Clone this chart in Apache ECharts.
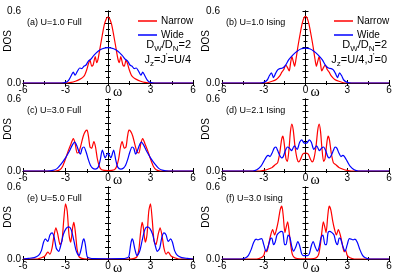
<!DOCTYPE html>
<html>
<head>
<meta charset="utf-8">
<script src="https://cdn.jsdelivr.net/npm/echarts@6/dist/echarts.min.js"></script>
<style>html,body{margin:0;padding:0;background:#fff}#c{width:399px;height:280px}</style>
</head>
<body>
<div id="c"></div>
<script>
// ---------- data ----------
const panelLabels = ['(a) U=1.0 Full', '(b) U=1.0 Ising', '(c) U=3.0 Full', '(d) U=2.1 Ising', '(e) U=5.0 Full', '(f) U=3.0 Ising'];
const seriesNames = ['Narrow', 'Wide'];
const xTicks = [-6, -3, 0, 3, 6];
const yTickLabels = ['0.0', '0.6'];

const aNarrow = [[-6,0],[-3,0],[-2.6,0.005],[-2.3,0.015],[-2.0,0.03],[-1.8,0.045],[-1.65,0.065],[-1.5,0.11],[-1.38,0.16],[-1.27,0.19],[-1.15,0.14],[-1.05,0.15],[-0.9,0.22],[-0.8,0.17],[-0.7,0.2],[-0.55,0.3],[-0.4,0.4],[-0.25,0.49],[-0.1,0.54],[0,0.55],[0.1,0.54],[0.25,0.49],[0.4,0.4],[0.55,0.3],[0.7,0.2],[0.8,0.17],[0.9,0.22],[1.05,0.15],[1.15,0.14],[1.27,0.19],[1.38,0.16],[1.5,0.11],[1.65,0.065],[1.8,0.045],[2.0,0.03],[2.3,0.015],[2.6,0.005],[3,0],[6,0]];
const aWide = [[-6,0],[-3.3,0],[-3.0,0.005],[-2.8,0.02],[-2.6,0.06],[-2.45,0.09],[-2.32,0.065],[-2.15,0.1],[-2.0,0.125],[-1.85,0.12],[-1.7,0.14],[-1.55,0.15],[-1.4,0.18],[-1.2,0.2],[-1.0,0.23],[-0.7,0.265],[-0.4,0.285],[0,0.295],[0.4,0.285],[0.7,0.265],[1.0,0.23],[1.2,0.2],[1.4,0.18],[1.55,0.15],[1.7,0.14],[1.85,0.12],[2.0,0.125],[2.15,0.1],[2.32,0.065],[2.45,0.09],[2.6,0.06],[2.8,0.02],[3.0,0.005],[3.3,0],[6,0]];

const bNarrow = [[-6,0],[-2.9,0],[-2.4,0.015],[-2.1,0.03],[-1.85,0.06],[-1.7,0.09],[-1.57,0.11],[-1.42,0.15],[-1.3,0.13],[-1.17,0.1],[-1.08,0.16],[-0.98,0.22],[-0.88,0.18],[-0.78,0.14],[-0.68,0.2],[-0.55,0.3],[-0.4,0.4],[-0.25,0.49],[-0.1,0.545],[0,0.555],[0.1,0.545],[0.25,0.49],[0.4,0.4],[0.55,0.3],[0.68,0.2],[0.78,0.14],[0.88,0.18],[0.98,0.22],[1.08,0.16],[1.17,0.1],[1.3,0.13],[1.42,0.15],[1.57,0.11],[1.7,0.09],[1.85,0.06],[2.1,0.03],[2.4,0.015],[2.9,0],[6,0]];
const bWide = [[-6,0],[-3.3,0],[-3.0,0.005],[-2.75,0.025],[-2.6,0.06],[-2.45,0.085],[-2.3,0.045],[-2.15,0.08],[-2.0,0.11],[-1.85,0.12],[-1.65,0.125],[-1.45,0.145],[-1.2,0.195],[-0.9,0.235],[-0.6,0.265],[-0.3,0.285],[0,0.29],[0.3,0.285],[0.6,0.265],[0.9,0.235],[1.2,0.195],[1.45,0.145],[1.65,0.125],[1.85,0.12],[2.0,0.11],[2.15,0.08],[2.3,0.045],[2.45,0.085],[2.6,0.06],[2.75,0.025],[3.0,0.005],[3.3,0],[6,0]];

const cNarrow = [[-6,0],[-3.7,0],[-3.4,0.01],[-3.2,0.04],[-3.0,0.1],[-2.8,0.17],[-2.6,0.23],[-2.45,0.27],[-2.32,0.23],[-2.18,0.15],[-2.05,0.16],[-1.9,0.22],[-1.75,0.29],[-1.6,0.33],[-1.48,0.34],[-1.38,0.29],[-1.27,0.2],[-1.15,0.19],[-1.0,0.245],[-0.88,0.2],[-0.75,0.1],[-0.6,0.035],[-0.45,0.01],[0,0.003],[0.45,0.01],[0.6,0.035],[0.75,0.1],[0.88,0.2],[1.0,0.245],[1.15,0.19],[1.27,0.2],[1.38,0.29],[1.48,0.34],[1.6,0.33],[1.75,0.29],[1.9,0.22],[2.05,0.16],[2.18,0.15],[2.32,0.23],[2.45,0.27],[2.6,0.23],[2.8,0.17],[3.0,0.1],[3.2,0.04],[3.4,0.01],[3.7,0],[6,0]];
const cWide = [[-6,0],[-4.3,0],[-3.9,0.005],[-3.6,0.02],[-3.3,0.06],[-3.0,0.11],[-2.75,0.16],[-2.5,0.22],[-2.35,0.24],[-2.2,0.21],[-2.05,0.16],[-1.95,0.14],[-1.82,0.19],[-1.7,0.2],[-1.55,0.16],[-1.4,0.1],[-1.25,0.05],[-1.1,0.025],[-0.9,0.015],[-0.7,0.03],[-0.55,0.09],[-0.4,0.175],[-0.2,0.11],[0,0.15],[0.2,0.11],[0.4,0.175],[0.55,0.09],[0.7,0.03],[0.9,0.015],[1.1,0.025],[1.25,0.05],[1.4,0.1],[1.55,0.16],[1.7,0.2],[1.82,0.19],[1.95,0.14],[2.05,0.16],[2.2,0.21],[2.35,0.24],[2.5,0.22],[2.75,0.16],[3.0,0.11],[3.3,0.06],[3.6,0.02],[3.9,0.005],[4.3,0],[6,0]];

const dNarrow = [[-6,0],[-3.3,0],[-3.0,0.005],[-2.7,0.015],[-2.4,0.03],[-2.15,0.055],[-2.0,0.07],[-1.85,0.15],[-1.72,0.26],[-1.62,0.29],[-1.52,0.22],[-1.4,0.1],[-1.3,0.08],[-1.18,0.19],[-1.08,0.33],[-0.98,0.39],[-0.88,0.34],[-0.75,0.2],[-0.6,0.1],[-0.48,0.075],[-0.35,0.1],[-0.2,0.14],[0,0.15],[0.2,0.14],[0.35,0.1],[0.48,0.075],[0.6,0.1],[0.75,0.2],[0.88,0.34],[0.98,0.39],[1.08,0.33],[1.18,0.19],[1.3,0.08],[1.4,0.1],[1.52,0.22],[1.62,0.29],[1.72,0.26],[1.85,0.15],[2.0,0.07],[2.15,0.055],[2.4,0.03],[2.7,0.015],[3.0,0.005],[3.3,0],[6,0]];
const dWide = [[-6,0],[-3.8,0],[-3.5,0.01],[-3.2,0.04],[-3.0,0.08],[-2.8,0.12],[-2.68,0.13],[-2.55,0.12],[-2.4,0.15],[-2.25,0.19],[-2.12,0.2],[-2.0,0.17],[-1.85,0.13],[-1.72,0.11],[-1.6,0.12],[-1.45,0.17],[-1.3,0.2],[-1.15,0.19],[-1.0,0.17],[-0.8,0.21],[-0.6,0.18],[-0.42,0.24],[-0.27,0.26],[-0.12,0.235],[0,0.23],[0.12,0.235],[0.27,0.26],[0.42,0.24],[0.6,0.18],[0.8,0.21],[1.0,0.17],[1.15,0.19],[1.3,0.2],[1.45,0.17],[1.6,0.12],[1.72,0.11],[1.85,0.13],[2.0,0.17],[2.12,0.2],[2.25,0.19],[2.4,0.15],[2.55,0.12],[2.68,0.13],[2.8,0.12],[3.0,0.08],[3.2,0.04],[3.5,0.01],[3.8,0],[6,0]];

const eNarrow = [[-6,0],[-5.0,0],[-4.7,0.01],[-4.45,0.025],[-4.25,0.058],[-4.1,0.04],[-3.95,0.09],[-3.82,0.19],[-3.68,0.26],[-3.55,0.21],[-3.38,0.12],[-3.25,0.15],[-3.12,0.33],[-3.0,0.46],[-2.88,0.4],[-2.75,0.2],[-2.63,0.14],[-2.5,0.26],[-2.41,0.305],[-2.3,0.22],[-2.18,0.08],[-2.05,0.02],[-1.85,0.005],[-1.5,0],[1.5,0],[1.85,0.005],[2.05,0.02],[2.18,0.08],[2.3,0.22],[2.41,0.305],[2.5,0.26],[2.63,0.14],[2.75,0.2],[2.88,0.4],[3.0,0.46],[3.12,0.33],[3.25,0.15],[3.38,0.12],[3.55,0.21],[3.68,0.26],[3.82,0.19],[3.95,0.09],[4.1,0.04],[4.25,0.058],[4.45,0.025],[4.7,0.01],[5.0,0],[6,0]];
const eWide = [[-6,0],[-5.6,0.005],[-5.2,0.012],[-4.9,0.03],[-4.7,0.07],[-4.55,0.14],[-4.42,0.167],[-4.25,0.147],[-4.1,0.2],[-3.95,0.217],[-3.8,0.18],[-3.65,0.09],[-3.48,0.064],[-3.32,0.12],[-3.15,0.205],[-2.95,0.255],[-2.77,0.267],[-2.6,0.245],[-2.42,0.16],[-2.25,0.07],[-2.05,0.028],[-1.9,0.08],[-1.78,0.15],[-1.7,0.167],[-1.6,0.12],[-1.47,0.02],[-1.3,0.008],[-1.0,0.003],[0,0.002],[1.0,0.003],[1.3,0.008],[1.47,0.02],[1.6,0.12],[1.7,0.167],[1.78,0.15],[1.9,0.08],[2.05,0.028],[2.25,0.07],[2.42,0.16],[2.6,0.245],[2.77,0.267],[2.95,0.255],[3.15,0.205],[3.32,0.12],[3.48,0.064],[3.65,0.09],[3.8,0.18],[3.95,0.217],[4.1,0.2],[4.25,0.147],[4.42,0.167],[4.55,0.14],[4.7,0.07],[4.9,0.03],[5.2,0.012],[5.6,0.005],[6,0]];

const fNarrow = [[-6,0],[-3.5,0],[-3.2,0.01],[-3.0,0.03],[-2.88,0.075],[-2.78,0.06],[-2.65,0.12],[-2.5,0.2],[-2.36,0.245],[-2.22,0.2],[-2.08,0.25],[-1.95,0.32],[-1.82,0.41],[-1.7,0.44],[-1.6,0.36],[-1.48,0.22],[-1.38,0.27],[-1.28,0.31],[-1.18,0.23],[-1.08,0.13],[-0.95,0.04],[-0.8,0.012],[-0.6,0.004],[0,0.002],[0.6,0.004],[0.8,0.012],[0.95,0.04],[1.08,0.13],[1.18,0.23],[1.28,0.31],[1.38,0.27],[1.48,0.22],[1.6,0.36],[1.7,0.44],[1.82,0.41],[1.95,0.32],[2.08,0.25],[2.22,0.2],[2.36,0.245],[2.5,0.2],[2.65,0.12],[2.78,0.06],[2.88,0.075],[3.0,0.03],[3.2,0.01],[3.5,0],[6,0]];
const fWide = [[-6,0],[-4.6,0],[-4.3,0.01],[-4.1,0.03],[-3.9,0.08],[-3.72,0.14],[-3.55,0.165],[-3.42,0.16],[-3.3,0.165],[-3.15,0.17],[-3.0,0.12],[-2.85,0.065],[-2.7,0.1],[-2.52,0.17],[-2.42,0.175],[-2.3,0.12],[-2.18,0.14],[-2.05,0.2],[-1.9,0.22],[-1.72,0.23],[-1.62,0.22],[-1.5,0.12],[-1.4,0.12],[-1.25,0.2],[-1.12,0.18],[-0.98,0.1],[-0.85,0.065],[-0.7,0.1],[-0.55,0.145],[-0.42,0.11],[-0.28,0.045],[-0.15,0.028],[0,0.028],[0.15,0.028],[0.28,0.045],[0.42,0.11],[0.55,0.145],[0.7,0.1],[0.85,0.065],[0.98,0.1],[1.12,0.18],[1.25,0.2],[1.4,0.12],[1.5,0.12],[1.62,0.22],[1.72,0.23],[1.9,0.22],[2.05,0.2],[2.18,0.14],[2.3,0.12],[2.42,0.175],[2.52,0.17],[2.7,0.1],[2.85,0.065],[3.0,0.12],[3.15,0.17],[3.3,0.165],[3.42,0.16],[3.55,0.165],[3.72,0.14],[3.9,0.08],[4.1,0.03],[4.3,0.01],[4.6,0],[6,0]];

const narrowData = [aNarrow, bNarrow, cNarrow, dNarrow, eNarrow, fNarrow];
const wideData = [aWide, bWide, cWide, dWide, eWide, fWide];

// ---------- layout ----------
const colLeft = [23, 222];
const colWidth = [170, 167];
const rowTop = [11, 99, 187];
const plotH = 72;
const font = "'Liberation Sans', Arial, sans-serif";
const serif = "'Liberation Serif', 'DejaVu Serif', serif";

const grids = [], xAxes = [], yAxes = [], series = [], graphics = [];
for (let i = 0; i < 6; i++) {
  const col = i % 2, row = Math.floor(i / 2);
  grids.push({left: colLeft[col], top: rowTop[row], width: colWidth[col], height: plotH});
  const axLine = {show: true, lineStyle: {color: '#000', width: 1}};
  const tick = {show: true, inside: true, length: 3, lineStyle: {color: '#000'}};
  const minor = {show: true, splitNumber: 2, length: 2, lineStyle: {color: '#000'}};
  xAxes.push({
    type: 'value', gridIndex: i, position: 'bottom', min: xTicks[0], max: xTicks[xTicks.length - 1], interval: 3,
    axisLine: axLine, axisTick: tick, minorTick: minor, splitLine: {show: false},
    axisLabel: {fontSize: 10, color: '#000', margin: 2, fontFamily: font, formatter: v => String(v)}
  });
  xAxes.push({
    type: 'value', gridIndex: i, position: 'top', min: -6, max: 6, interval: 3,
    axisLine: axLine, axisTick: tick, minorTick: minor, splitLine: {show: false}, axisLabel: {show: false}
  });
  yAxes.push({
    type: 'value', gridIndex: i, position: 'left', min: 0, max: 0.6, interval: 0.1,
    axisLine: axLine, axisTick: tick, minorTick: minor, splitLine: {show: false},
    axisLabel: {fontSize: 10, color: '#000', margin: 2, fontFamily: font, showMinLabel: true, showMaxLabel: true,
      formatter: v => (Math.abs(v) < 1e-9 ? yTickLabels[0] : (Math.abs(v - 0.6) < 1e-9 ? yTickLabels[1] : ''))}
  });
  yAxes.push({
    type: 'value', gridIndex: i, position: 'right', min: 0, max: 0.6, interval: 0.1,
    axisLine: axLine, axisTick: tick, minorTick: minor, splitLine: {show: false}, axisLabel: {show: false}
  });
  series.push({type: 'line', name: seriesNames[0], xAxisIndex: 2 * i, yAxisIndex: 2 * i, data: narrowData[i],
    symbol: 'none', smooth: 0.25, lineStyle: {color: '#ff0000', width: 1.2}, itemStyle: {color: '#ff0000'}, z: 2});
  series.push({type: 'line', name: seriesNames[1], xAxisIndex: 2 * i, yAxisIndex: 2 * i, data: wideData[i],
    symbol: 'none', smooth: 0.25, lineStyle: {color: '#0000ff', width: 1.2}, itemStyle: {color: '#0000ff'}, z: 3});
  // panel label
  graphics.push({type: 'text', x: colLeft[col] + 4, y: rowTop[row] + 12,
    style: {text: panelLabels[i], font: '9px ' + font, fill: '#000', align: 'left', verticalAlign: 'middle'}});
  // DOS label
  graphics.push({type: 'text', x: col === 0 ? 8 : 206, y: rowTop[row] + 30, rotation: Math.PI / 2,
    style: {text: 'DOS', font: '10px ' + font, fill: '#000', align: 'center', verticalAlign: 'middle'}});
  // omega axis title, just right of the 0 tick label
  graphics.push({type: 'text', x: colLeft[col] + colWidth[col] / 2 + 5, y: rowTop[row] + plotH + 9,
    style: {text: 'ω', font: '14px ' + serif, fill: '#000', align: 'left', verticalAlign: 'middle'}});
}

const rich = {
  n: {fontSize: 11, fontFamily: font, color: '#000', lineHeight: 16, verticalAlign: 'middle'},
  s: {fontSize: 8, fontFamily: font, color: '#000', lineHeight: 8, verticalAlign: 'bottom'},
  p: {fontSize: 8, fontFamily: font, color: '#000', lineHeight: 8, verticalAlign: 'top'}
};
graphics.push({type: 'text', x: 191, y: 45, style: {text: '{n|D}{s|W}{n|/D}{s|N}{n|=2}', rich: rich, align: 'right', verticalAlign: 'middle'}});
graphics.push({type: 'text', x: 191, y: 60, style: {text: '{n|J}{s|z}{n|=J}{p|\'}{n|=U/4}', rich: rich, align: 'right', verticalAlign: 'middle'}});
graphics.push({type: 'text', x: 387, y: 45, style: {text: '{n|D}{s|W}{n|/D}{s|N}{n|=2}', rich: rich, align: 'right', verticalAlign: 'middle'}});
graphics.push({type: 'text', x: 387, y: 60, style: {text: '{n|J}{s|z}{n|=U/4,J}{p|\'}{n|=0}', rich: rich, align: 'right', verticalAlign: 'middle'}});

const legendBase = {orient: 'vertical', icon: 'rect', itemWidth: 19, itemHeight: 1.5, itemGap: 4, padding: 0,
  textStyle: {fontSize: 10, color: '#000', fontFamily: font, padding: [0, 0, 0, -1]}, data: seriesNames, selectedMode: false};
const legends = [
  Object.assign({}, legendBase, {left: 138, top: 16}),
  Object.assign({}, legendBase, {left: 334, top: 16})
];

const chart = echarts.init(document.getElementById('c'), null, {renderer: 'canvas'});
chart.setOption({
  animation: false,
  backgroundColor: '#fff',
  grid: grids, xAxis: xAxes, yAxis: yAxes, series: series,
  legend: legends, graphic: graphics
});
</script>
</body>
</html>
